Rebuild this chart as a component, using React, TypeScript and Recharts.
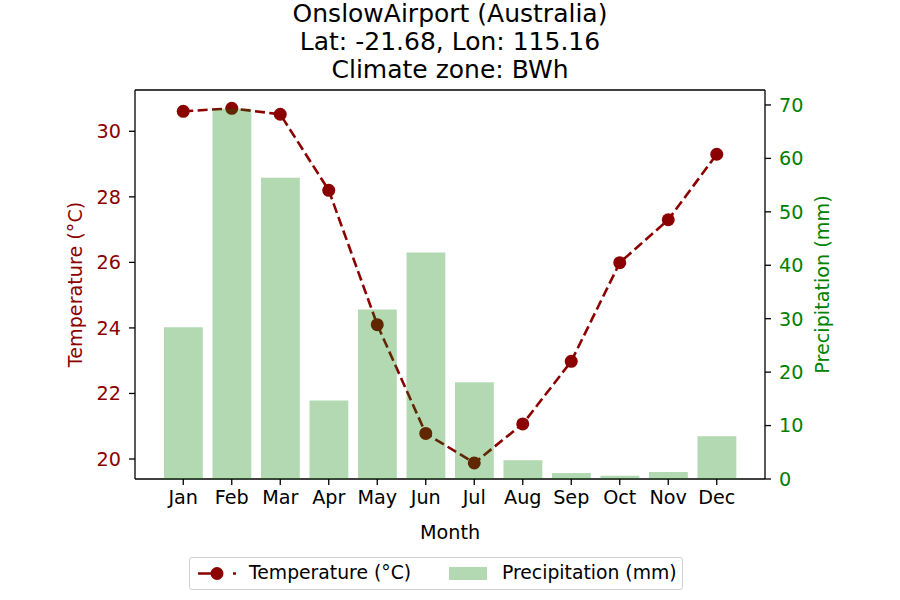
import React from 'react'
import { ComposedChart, Bar, Line, XAxis, YAxis, ReferenceLine } from 'recharts'

// Onslow Airport monthly climate normals
const months = ['Jan', 'Feb', 'Mar', 'Apr', 'May', 'Jun', 'Jul', 'Aug', 'Sep', 'Oct', 'Nov', 'Dec']
const temperature = [30.61, 30.7, 30.52, 28.2, 24.1, 20.78, 19.88, 21.07, 22.98, 25.99, 27.3, 29.3]
const precipitation = [28.4, 69.3, 56.4, 14.7, 31.7, 42.4, 18.1, 3.5, 1.1, 0.6, 1.3, 8.0]
const tempTicks = [20, 22, 24, 26, 28, 30]
const precipTicks = [0, 10, 20, 30, 40, 50, 60, 70]

const titleLines = ['OnslowAirport (Australia)', 'Lat: -21.68, Lon: 115.16', 'Climate zone: BWh']

const data = months.map((m, i) => ({
  month: m,
  temp: temperature[i],
  precip: precipitation[i],
}))

const TEMP_COLOR = '#8b0000'
const PRECIP_COLOR = '#008000'
const FONT = 'DejaVu Sans, sans-serif'
const FS = 19.2
const TEMP_DOMAIN: [number, number] = [19.39, 31.26]
const PRECIP_DOMAIN: [number, number] = [0, 72.8]

const App: React.FC = () => {
  return (
    <div style={{ position: 'relative', width: 900, height: 600, fontFamily: FONT, background: 'white' }}>
      <style>{'body{margin:0}'}</style>

      {/* Title */}
      <div
        style={{
          position: 'absolute',
          top: 0,
          left: 0,
          width: 900,
          textAlign: 'center',
          fontSize: 25,
          lineHeight: '28px',
          color: '#000',
        }}
      >
        {titleLines.map((t) => (
          <div key={t}>{t}</div>
        ))}
      </div>

      {/* Base chart: axes + temperature line */}
      <ComposedChart
        width={900}
        height={600}
        data={data}
        margin={{ top: 90, right: 60, bottom: 56, left: 60 }}
        style={{ fontFamily: FONT, position: 'absolute', left: 0, top: 0 }}
      >
        <XAxis
          dataKey="month"
          padding={{ left: 24, right: 24 }}
          height={65}
          tickSize={6}
          tickMargin={5}
          tick={{ fill: '#000', fontSize: FS }}
          axisLine={{ stroke: '#000', strokeWidth: 1.3 }}
          tickLine={{ stroke: '#000', strokeWidth: 1.3 }}
          label={{ value: 'Month', position: 'insideBottom', offset: 5, fill: '#000', fontSize: FS }}
        />
        <YAxis
          yAxisId="left"
          orientation="left"
          width={75}
          domain={TEMP_DOMAIN}
          ticks={tempTicks}
          allowDataOverflow
          tickSize={6}
          tickMargin={8}
          tick={{ fill: TEMP_COLOR, fontSize: FS }}
          axisLine={{ stroke: '#000', strokeWidth: 1.3 }}
          tickLine={{ stroke: '#000', strokeWidth: 1.3 }}
          label={{
            value: 'Temperature (°C)',
            angle: -90,
            position: 'insideLeft',
            offset: 15,
            fill: TEMP_COLOR,
            fontSize: FS,
            style: { textAnchor: 'middle' },
          }}
        />
        <YAxis
          yAxisId="right"
          orientation="right"
          width={75}
          domain={PRECIP_DOMAIN}
          ticks={precipTicks}
          allowDataOverflow
          tickSize={6}
          tickMargin={8}
          tick={{ fill: PRECIP_COLOR, fontSize: FS }}
          axisLine={{ stroke: '#000', strokeWidth: 1.3 }}
          tickLine={{ stroke: '#000', strokeWidth: 1.3 }}
          label={{
            value: 'Precipitation (mm)',
            angle: -90,
            position: 'insideRight',
            offset: 18,
            fill: PRECIP_COLOR,
            fontSize: FS,
            style: { textAnchor: 'middle' },
          }}
        />
        {/* top spine */}
        <ReferenceLine yAxisId="left" y={TEMP_DOMAIN[1]} stroke="#000" strokeWidth={1.3} />

        {/* invisible bars keep the right axis bound to data */}
        <Bar yAxisId="right" dataKey="precip" fillOpacity={0} barSize={38.8} isAnimationActive={false} />
        <Line
          yAxisId="left"
          dataKey="temp"
          type="linear"
          stroke={TEMP_COLOR}
          strokeWidth={2.6}
          strokeDasharray="10 4.4"
          dot={{ r: 6.5, fill: TEMP_COLOR, stroke: TEMP_COLOR, strokeWidth: 0, strokeDasharray: 'none' }}
          activeDot={false}
          isAnimationActive={false}
        />
      </ComposedChart>

      {/* Overlay chart: translucent bars drawn above the line (twin axis on top) */}
      <ComposedChart
        width={900}
        height={600}
        data={data}
        margin={{ top: 90, right: 135, bottom: 121, left: 135 }}
        style={{ position: 'absolute', left: 0, top: 0, pointerEvents: 'none' }}
      >
        <XAxis dataKey="month" hide padding={{ left: 24, right: 24 }} />
        <YAxis yAxisId="right" hide domain={PRECIP_DOMAIN} allowDataOverflow />
        <Bar
          yAxisId="right"
          dataKey="precip"
          fill={PRECIP_COLOR}
          fillOpacity={0.3}
          barSize={38.8}
          isAnimationActive={false}
        />
      </ComposedChart>

      {/* Legend */}
      <div
        style={{
          position: 'absolute',
          left: 189,
          top: 557,
          width: 494,
          height: 33,
          boxSizing: 'border-box',
          border: '1px solid #d0d0d0',
          borderRadius: 3,
          background: 'white',
          fontSize: 18.8,
          color: '#000',
        }}
      >
        <svg width={492} height={31} style={{ position: 'absolute', left: 0, top: 0 }}>
          <line x1={8} y1={15.5} x2={46} y2={15.5} stroke={TEMP_COLOR} strokeWidth={2.6} strokeDasharray="25 10 3 10" />
          <circle cx={27} cy={15.5} r={6.5} fill={TEMP_COLOR} />
          <rect x={259} y={9} width={38} height={13} fill={PRECIP_COLOR} fillOpacity={0.3} />
        </svg>
        <span style={{ position: 'absolute', left: 59, top: 3, lineHeight: '24px', whiteSpace: 'nowrap' }}>
          Temperature (°C)
        </span>
        <span style={{ position: 'absolute', left: 312, top: 3, lineHeight: '24px', whiteSpace: 'nowrap' }}>
          Precipitation (mm)
        </span>
      </div>
    </div>
  )
}

export default App
